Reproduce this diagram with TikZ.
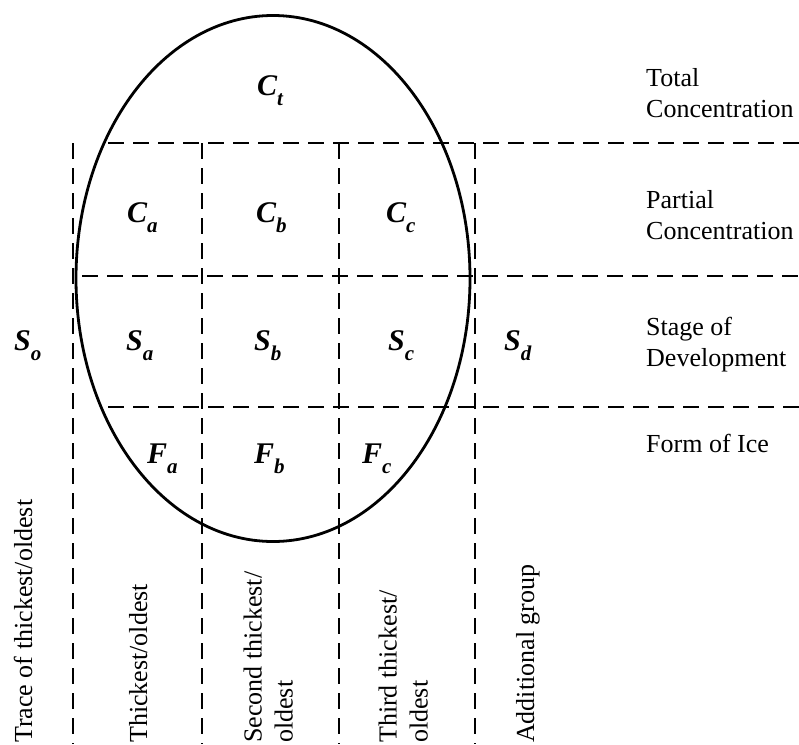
\documentclass[tikz,border=0pt]{standalone}
\usepackage{fontspec}
\setmainfont{Liberation Serif}
\newcommand\symlbl[2]{{\fontsize{30}{30}\selectfont\bfseries\itshape #1\raisebox{-10pt}{\fontsize{21}{21}\selectfont #2}}}
\begin{document}
\begin{tikzpicture}[x=1pt,y=-1pt,
  grid/.style={line width=1.8pt, dash pattern=on 16pt off 9pt},
  oval/.style={line width=2.8pt},
  sym/.style={anchor=base west, inner sep=0pt},
  desc/.style={anchor=north west, inner sep=0pt, align=left, font=\fontsize{26}{31}\selectfont},
  vdesc/.style={inner sep=0pt, align=left, rotate=90, font=\fontsize{26}{31}\selectfont}]
\useasboundingbox (0,0) rectangle (799,744);

% grid
\coordinate (h1s) at (108,143); \coordinate (h1e) at (799,143);
\coordinate (h2s) at (82,276);  \coordinate (h2e) at (799,276);
\coordinate (h3s) at (108,407); \coordinate (h3e) at (799,407);
\coordinate (v0s) at (73,143);  \coordinate (v0e) at (73,744);
\coordinate (v1s) at (202,143); \coordinate (v1e) at (202,744);
\coordinate (v2s) at (339,143); \coordinate (v2e) at (339,744);
\coordinate (v3s) at (475,143); \coordinate (v3e) at (475,744);
\draw[grid] (h1s) -- (h1e);
\draw[grid] (h2s) -- (h2e);
\draw[grid] (h3s) -- (h3e);
\draw[grid] (v0s) -- (v0e);
\draw[grid] (v1s) -- (v1e);
\draw[grid] (v2s) -- (v2e);
\draw[grid] (v3s) -- (v3e);

% ellipse
\coordinate (oc) at (273,278.5);
\draw[oval] (oc) ellipse [x radius=197pt, y radius=263pt];

% symbols
\node[sym] (ct) at (257,95) {\symlbl{C}{t}};
\node[sym] (ca) at (127,222) {\symlbl{C}{a}};
\node[sym] (cb) at (256,222) {\symlbl{C}{b}};
\node[sym] (cc) at (386,222) {\symlbl{C}{c}};
\node[sym] (so) at (14,350) {\symlbl{S}{o}};
\node[sym] (sa) at (126,350) {\symlbl{S}{a}};
\node[sym] (sb) at (254,350) {\symlbl{S}{b}};
\node[sym] (sc) at (388,350) {\symlbl{S}{c}};
\node[sym] (sd) at (504,350) {\symlbl{S}{d}};
\node[sym] (fa) at (147,463) {\symlbl{F}{a}};
\node[sym] (fb) at (254,463) {\symlbl{F}{b}};
\node[sym] (fc) at (362,463) {\symlbl{F}{c}};

% right descriptions
\node[desc] (tot) at (646,68) {Total\\Concentration};
\node[desc] (par) at (646,190) {Partial\\Concentration};
\node[desc] (sta) at (646,317) {Stage of\\Development};
\node[desc] (frm) at (646,434) {Form of Ice};

% bottom descriptions
\node[vdesc, anchor=base west] (tr) at (32,743) {Trace of thickest/oldest};
\node[vdesc, anchor=base west] (th) at (147,743) {Thickest/oldest};
\node[vdesc, anchor=south west] (se) at (293,743) {Second thickest/\\oldest};
\node[vdesc, anchor=south west] (tt) at (428,743) {Third thickest/\\oldest};
\node[vdesc, anchor=base west] (ad) at (534,743) {Additional group};
\end{tikzpicture}
\end{document}
